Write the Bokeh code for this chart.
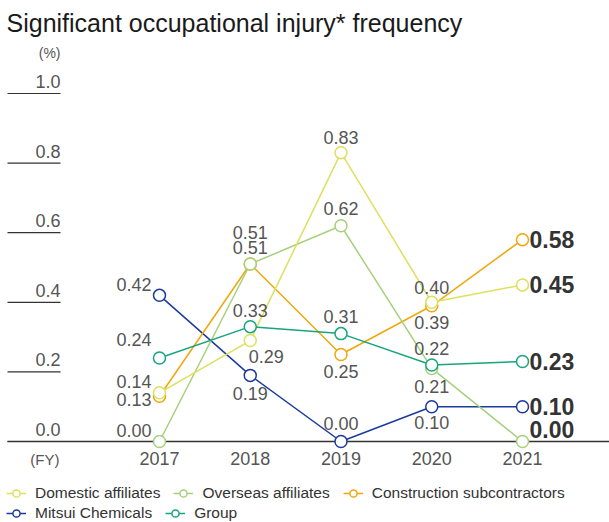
from bokeh.plotting import figure
from bokeh.models import Range1d, Label, Legend, LegendItem
from bokeh.embed import file_html
from bokeh.resources import INLINE
from bokeh.core.properties import value

# ---------------- data ----------------
years = [2017, 2018, 2019, 2020, 2021]
year_labels = ["2017", "2018", "2019", "2020", "2021"]

domestic = [0.14, 0.29, 0.83, 0.40, 0.45]
overseas = [0.00, 0.51, 0.62, 0.21, 0.00]
construction = [0.13, 0.51, 0.25, 0.39, 0.58]
mitsui = [0.42, 0.19, 0.00, 0.10, 0.10]
group = [0.24, 0.33, 0.31, 0.22, 0.23]

y_ticks = [0.0, 0.2, 0.4, 0.6, 0.8, 1.0]
y_tick_labels = ["0.0", "0.2", "0.4", "0.6", "0.8", "1.0"]

title_text = "Significant occupational injury* frequency"
unit_text = "(%)"
fy_text = "(FY)"

# ---------------- styles ----------------
FONT = "Liberation Sans"
colors = {
    "Domestic affiliates": "#dde05c",
    "Overseas affiliates": "#a6d07c",
    "Construction subcontractors": "#f0a70a",
    "Mitsui Chemicals": "#1c3a9e",
    "Group": "#17a57c",
}
series = {
    "Domestic affiliates": domestic,
    "Overseas affiliates": overseas,
    "Construction subcontractors": construction,
    "Mitsui Chemicals": mitsui,
    "Group": group,
}
# label placement (align, dx, dy) for 2017..2020; last year bold to the right with dy
label_style = {
    "Domestic affiliates": [("right", -8, -11), ("center", 16, 16), ("center", 0, -15), ("center", 0, -15), 0],
    "Overseas affiliates": [("right", -8, -11), ("center", 0, -17), ("center", 0, -17), ("center", 0, 18), -12],
    "Construction subcontractors": [("right", -8, 3), ("center", 0, -32), ("center", 0, 17), ("center", 0, 17), 0],
    "Mitsui Chemicals": [("right", -8, -11), ("center", 0, 18), ("center", 0, -18), ("center", 0, 16), 0],
    "Group": [("right", -8, -18), ("center", 0, -16), ("center", 0, -17), ("center", 0, -16), 0],
}
draw_order = ["Mitsui Chemicals", "Construction subcontractors", "Overseas affiliates",
              "Domestic affiliates", "Group"]
legend_rows = [["Domestic affiliates", "Overseas affiliates", "Construction subcontractors"],
               ["Mitsui Chemicals", "Group"]]

W, H = 609, 522
X0, X1 = 2015.2479, 2021.9587
Y0, Y1 = -0.23276, 1.26724

p = figure(width=W, height=H, x_range=Range1d(X0, X1), y_range=Range1d(Y0, Y1),
           output_backend="svg", toolbar_location=None, min_border=0,
           x_axis_location=None, y_axis_location=None, title=None)
p.grid.visible = False
p.outline_line_color = None

ppy = W / (X1 - X0)
stub_start = X0 + 7 / ppy
stub_end = X0 + 60 / ppy

# y tick stubs and labels
p.segment(x0=[stub_start] * len(y_ticks), x1=[stub_end] * len(y_ticks), y0=y_ticks, y1=y_ticks,
          line_color="#333333", line_width=1.2)
p.text(x=[stub_end] * len(y_ticks), y=y_ticks, text=y_tick_labels, text_align="right",
       text_baseline="middle", y_offset=-12, text_font=value(FONT), text_font_size="18px",
       text_color="#555555")
p.segment(x0=[stub_start], x1=[X1], y0=[y_ticks[0]], y1=[y_ticks[0]],
          line_color="#333333", line_width=1.3)

# x labels
p.text(x=years, y=[y_ticks[0]] * len(years), text=year_labels, text_align="center",
       text_baseline="middle", y_offset=17, text_font=value(FONT), text_font_size="18px",
       text_color="#555555")

# series
renderers = {}
for name in draw_order:
    vals = series[name]
    c = colors[name]
    rl = p.line(years, vals, line_color=c, line_width=1.5)
    rs = p.scatter(years, vals, marker="circle", size=12, fill_color="white", line_color=c,
                   line_width=1.5)
    renderers[name] = [rl, rs]

# value labels
for name in draw_order:
    vals = series[name]
    st = label_style[name]
    for i in range(4):
        align, dx, dy = st[i]
        p.text(x=[years[i]], y=[vals[i]], text=["%.2f" % vals[i]], text_align=align,
               text_baseline="middle", x_offset=dx, y_offset=dy, text_font=value(FONT),
               text_font_size="18px", text_color="#555555")
    p.text(x=[years[4]], y=[vals[4]], text=["%.2f" % vals[4]], text_align="left",
           text_baseline="middle", x_offset=7, y_offset=st[4], text_font=value(FONT),
           text_font_size="23px", text_font_style="bold", text_color="#333333")

# title and units
p.add_layout(Label(x=6, y=500, x_units="screen", y_units="screen", text=title_text,
                   text_font=FONT, text_font_size="25px", text_baseline="middle",
                   text_color="#1a1a1a"))
p.add_layout(Label(x=60, y=470, x_units="screen", y_units="screen", text=unit_text,
                   text_font=FONT, text_font_size="14px", text_baseline="middle",
                   text_align="right", text_color="#555555"))
p.add_layout(Label(x=59, y=63, x_units="screen", y_units="screen", text=fy_text,
                   text_font=FONT, text_font_size="15px", text_baseline="middle",
                   text_align="right", text_color="#555555"))

# legends (two rows)
for row, ypos in zip(legend_rows, [20, 0]):
    items = [LegendItem(label=name, renderers=renderers[name]) for name in row]
    leg = Legend(items=items, location=(6, ypos), orientation="horizontal",
                 padding=0, margin=0, spacing=13, glyph_width=20, glyph_height=18,
                 label_height=18, label_standoff=9, label_text_font=FONT,
                 label_text_font_size="15.5px", label_text_color="#333333",
                 border_line_color=None, background_fill_alpha=0)
    p.add_layout(leg)

open("out.html", "w").write(file_html(p, INLINE))
